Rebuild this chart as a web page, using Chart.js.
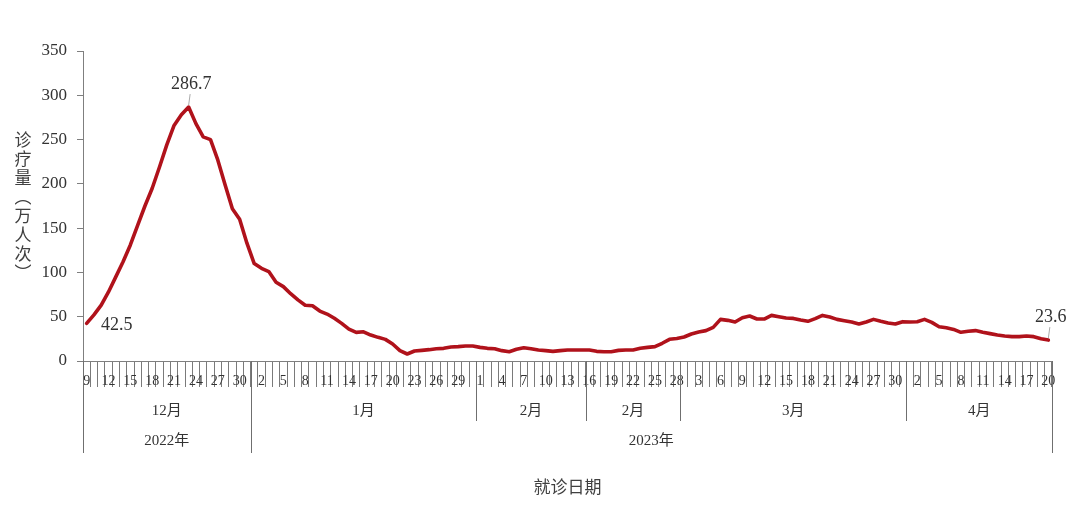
<!DOCTYPE html>
<html>
<head>
<meta charset="utf-8">
<script src="https://cdn.jsdelivr.net/npm/chart.js@4.4.1/dist/chart.umd.min.js"></script>
<style>
html,body{margin:0;padding:0;background:#ffffff;}
#wrap{width:1080px;height:517px;position:relative;}
</style>
</head>
<body>
<div id="wrap"><canvas id="c" width="1080" height="517"></canvas></div>
<script>
// ---- category labels (day of month), grouped by month block ----
const daysDec = [9,10,11,12,13,14,15,16,17,18,19,20,21,22,23,24,25,26,27,28,29,30,31];
const daysJan = [1,2,3,4,5,6,7,8,9,10,11,12,13,14,15,16,17,18,19,20,21,22,23,24,25,26,27,28,29,30,31];
const daysFebA = [1,2,3,4,5,6,7,8,9,10,11,12,13,14,15];
const daysFebB = [16,17,18,19,20,21,22,23,24,25,26,27,28];
const daysMar = [1,2,3,4,5,6,7,8,9,10,11,12,13,14,15,16,17,18,19,20,21,22,23,24,25,26,27,28,29,30,31];
const daysApr = [1,2,3,4,5,6,7,8,9,10,11,12,13,14,15,16,17,18,19,20];

const monthLabels = ['12月','1月','2月','2月','3月','4月'];
const monthBlocks = [daysDec, daysJan, daysFebA, daysFebB, daysMar, daysApr];
const yearLabels = ['2022年','2023年'];
const yearMonthCounts = [1, 5];

// ---- series values (万人次) ----
const valuesDec = [42.5,52,63,78,95,112,131,153,175,195,219,244,266,278,286.7,268,253,250,227,199,172,160,133];
const valuesJan = [110,104.6,101,89,84,76,69,63,62.4,56.4,53,48.2,42.5,36,32.3,33,29.3,26.7,24.4,19.2,11.7,7.9,11.3,12,12.8,13.9,14.3,15.8,16.2,16.9,16.9];
const valuesFeb = [15.4,14.3,13.9,11.7,10.5,13.2,15,13.9,12.4,11.7,10.9,11.7,12.4,12.4,12.4,12.4,10.9,10.5,10.5,12,12.4,12.4,14.3,15.4,16.2,20,24.5,25.5];
const valuesMar = [27.1,30.5,32.7,34.3,38,47,45.9,44,48.9,50.8,47.4,47.4,51.5,50,48.5,48.1,46.3,44.8,47.8,51.5,49.6,47,45.5,44,41.7,44,47,44.8,42.9,41.7,44.4];
const valuesApr = [44,44.4,47,43.6,38.7,37.6,35.7,32.4,33.5,34.3,32.4,30.9,29.3,28.2,27.5,27.5,28.2,27.5,25.2,23.6];

const yTickValues = [0,50,100,150,200,250,300,350];
const yTitleChars = ['诊','疗','量','︵','万','人','次','︶'];
const xTitle = '就诊日期';

// ---- build library structures ----
const categories = [].concat(...monthBlocks).map(String);
const values = [].concat(valuesDec, valuesJan, valuesFeb, valuesMar, valuesApr);
const annotatedIdx = [0, values.indexOf(Math.max(...values)), values.length - 1];

const SERIF = '"Liberation Serif","Times New Roman","Noto Sans CJK SC",serif';
const SANS = '"Noto Sans CJK SC","Noto Sans",sans-serif';

const groupPlugin = {
  id: 'groupAxis',
  afterDraw(chart) {
    const ctx = chart.ctx;
    const xs = chart.scales.x;
    const area = chart.chartArea;
    const n = categories.length;
    const w = xs.getPixelForValue(1) - xs.getPixelForValue(0);
    const edge = i => xs.getPixelForValue(0) + (i - 0.5) * w;
    const base = area.bottom;
    ctx.save();
    ctx.strokeStyle = '#6f6f6f';
    ctx.lineWidth = 1;
    // month blocks
    let start = 0;
    const starts = [];
    monthBlocks.forEach((blk, k) => {
      starts.push(start);
      const end = start + blk.length;
      const x0 = edge(start), x1 = edge(end);
      ctx.fillStyle = '#333';
      ctx.font = '15px ' + SERIF;
      ctx.textAlign = 'center';
      ctx.textBaseline = 'middle';
      ctx.fillText(monthLabels[k], (x0 + x1) / 2, base + 50);
      start = end;
    });
    starts.push(n);
    // year blocks
    const yearEdges = [0];
    let m = 0;
    yearMonthCounts.forEach(c => { m += c; yearEdges.push(m); });
    starts.forEach((s, k) => {
      const isYear = yearEdges.includes(k);
      const px = Math.round(edge(s)) + 0.5;
      ctx.beginPath();
      ctx.moveTo(px, base);
      ctx.lineTo(px, base + (isYear ? 92 : 60));
      ctx.stroke();
    });
    yearLabels.forEach((lab, k) => {
      const x0 = edge(starts[yearEdges[k]]), x1 = edge(starts[yearEdges[k + 1]]);
      ctx.fillStyle = '#333';
      ctx.font = '15px ' + SERIF;
      ctx.textAlign = 'center';
      ctx.textBaseline = 'middle';
      ctx.fillText(lab, (x0 + x1) / 2, base + 80);
    });
    // x title
    ctx.fillStyle = '#404040';
    ctx.font = '17px ' + SANS;
    ctx.textAlign = 'center';
    ctx.textBaseline = 'middle';
    ctx.fillText(xTitle, (edge(0) + edge(n)) / 2, base + 126);
    // y title (stacked characters)
    const cy = (area.top + area.bottom) / 2;
    ctx.font = '17px ' + SANS;
    yTitleChars.forEach((ch, k) => {
      ctx.fillText(ch, 23, cy + (k - 3.5) * 18.9);
    });
    // data labels with leader lines
    const meta = chart.getDatasetMeta(0);
    ctx.font = '18px ' + SERIF;
    ctx.fillStyle = '#333';
    ctx.strokeStyle = '#aaaaaa';
    annotatedIdx.forEach((i, k) => {
      const p = meta.data[i];
      const txt = String(values[i]);
      if (k === 0) {
        ctx.fillText(txt, p.x + 30, p.y + 2);
      } else {
        ctx.beginPath();
        ctx.moveTo(p.x, p.y - 2);
        ctx.lineTo(p.x + 1.5, p.y - 13);
        ctx.stroke();
        ctx.fillText(txt, p.x + 2.5, p.y - 23);
      }
    });
    ctx.restore();
  }
};

new Chart(document.getElementById('c'), {
  type: 'line',
  data: {
    labels: categories,
    datasets: [{
      data: values,
      borderColor: '#b0121b',
      borderWidth: 3.6,
      pointRadius: 0,
      tension: 0,
      fill: false,
      borderJoinStyle: 'round',
      borderCapStyle: 'round'
    }]
  },
  options: {
    responsive: false,
    animation: false,
    layout: { padding: { top: 51, right: 28, left: 0, bottom: 0 } },
    plugins: { legend: { display: false }, tooltip: { enabled: false } },
    scales: {
      x: {
        type: 'category',
        offset: true,
        grid: { offset: true, drawOnChartArea: false, tickLength: 26, color: '#7a7a7a', lineWidth: 1 },
        border: { display: true, color: '#7f7f7f', width: 1 },
        ticks: {
          autoSkip: false,
          maxRotation: 0,
          minRotation: 0,
          padding: -14,
          color: '#333',
          font: { family: SERIF, size: 14 },
          callback: function(v, i) { return i % 3 === 0 ? categories[i] : ''; }
        },
        afterFit(scale) { scale.height = 156; }
      },
      y: {
        min: 0,
        max: 350,
        afterBuildTicks(scale) { scale.ticks = yTickValues.map(v => ({ value: v })); },
        grid: { drawOnChartArea: false, tickLength: 6, color: '#7f7f7f' },
        border: { display: true, color: '#7f7f7f', width: 1 },
        ticks: { padding: 10, color: '#333', font: { family: SERIF, size: 17 } },
        afterFit(scale) { scale.width = 83; }
      }
    }
  },
  plugins: [groupPlugin]
});
</script>
</body>
</html>
